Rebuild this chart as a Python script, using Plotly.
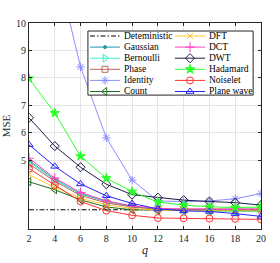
import plotly.graph_objects as go

q = [2, 4, 6, 8, 10, 12, 14, 16, 18, 20]

names = ["Deteministic", "Gaussian", "Bernoulli", "Phase", "Identity", "Count",
         "DFT", "DCT", "DWT", "Hadamard", "Noiselet", "Plane wave"]

deterministic = [3.2] * 10
gaussian = [5.0, 4.3, 3.78, 3.5, 3.32, 3.22, 3.2, 3.19, 3.18, 3.18]
bernoulli = [4.95, 4.28, 3.8, 3.52, 3.32, 3.2, 3.17, 3.15, 3.14, 3.13]
phase = [4.87, 4.24, 3.72, 3.45, 3.3, 3.22, 3.22, 3.22, 3.22, 3.23]
identity = [16.5, 12.3, 8.4, 5.82, 4.28, 3.52, 3.5, 3.52, 3.6, 3.79]
count = [4.22, 3.93, 3.56, 3.3, 3.2, 3.18, 3.18, 3.17, 3.17, 3.17]
dft = [4.48, 4.02, 3.62, 3.38, 3.25, 3.18, 3.17, 3.16, 3.16, 3.16]
dct = [5.08, 4.35, 3.83, 3.52, 3.34, 3.25, 3.23, 3.23, 3.22, 3.22]
dwt = [6.55, 5.52, 4.75, 4.13, 3.75, 3.64, 3.55, 3.5, 3.46, 3.37]
hadamard = [7.98, 6.72, 5.15, 4.35, 3.86, 3.48, 3.37, 3.31, 3.28, 3.3]
noiselet = [4.7, 4.1, 3.5, 3.17, 3.0, 2.9, 2.89, 2.88, 2.87, 2.85]
plane_wave = [5.57, 4.78, 4.14, 3.71, 3.43, 3.23, 3.16, 3.14, 3.06, 2.96]

series = [deterministic, gaussian, bernoulli, phase, identity, count,
          dft, dct, dwt, hadamard, noiselet, plane_wave]

colors = ["#000000", "#1f97ab", "#3cf2c6", "#b8665c", "#8c8cff", "#1f6e1f",
          "#ffc830", "#ff3fc4", "#1c1c44", "#2cff2c", "#ff3434", "#2424ff"]
symbols = [None, "circle", "triangle-right-open", "square-open", "asterisk-open",
           "triangle-left-open", "x-thin-open", "cross-thin-open", "diamond-open",
           "star", "circle-open", "triangle-up-open"]
msizes = [0, 3, 7, 6, 7, 7, 6, 7, 7, 7, 7, 7]

FONT = "Liberation Serif"

fig = go.Figure()

for name, ys, c, s, ms in zip(names, series, colors, symbols, msizes):
    if s is None:
        fig.add_trace(go.Scatter(x=q, y=ys, mode="lines", name=name,
                                 line=dict(color=c, width=1, dash="5px,2px,1.5px,2px"),
                                 showlegend=False))
    else:
        fig.add_trace(go.Scatter(x=q, y=ys, mode="lines+markers", name=name,
                                 line=dict(color=c, width=1),
                                 marker=dict(symbol=s, size=ms, color=c,
                                             line=dict(color=c, width=1)),
                                 showlegend=False))

# custom two-column legend drawn on a hidden overlay axis (0..1 of plot area)
LEG_BOX = (0.254, 0.966, 0.650, 0.961)
COL_LINE_X = [(0.263, 0.392), (0.629, 0.759)]
COL_TEXT_X = [0.401, 0.767]
ROW_TOP_PX = 36.0
ROW_STEP_PX = 11.1
PLOT_TOP_PX, PLOT_BOT_PX = 23.0, 229.0
PLOT_H = PLOT_BOT_PX - PLOT_TOP_PX

bx0, bx1, by0, by1 = LEG_BOX
fig.add_trace(go.Scatter(x=[bx0, bx1, bx1, bx0, bx0], y=[by0, by0, by1, by1, by0],
                         mode="lines", fill="toself", fillcolor="white",
                         line=dict(color="#262626", width=1),
                         xaxis="x2", yaxis="y2", showlegend=False, hoverinfo="skip"))

annotations = []
for i, (name, c, s, ms) in enumerate(zip(names, colors, symbols, msizes)):
    col, row = divmod(i, 6)
    yy = (PLOT_BOT_PX - (ROW_TOP_PX + ROW_STEP_PX * row)) / PLOT_H
    xa, xb = COL_LINE_X[col]
    xm = (xa + xb) / 2
    if s is None:
        fig.add_trace(go.Scatter(x=[xa, xb], y=[yy, yy], mode="lines",
                                 line=dict(color=c, width=1, dash="5px,2px,1.5px,2px"),
                                 xaxis="x2", yaxis="y2", showlegend=False, hoverinfo="skip"))
    else:
        fig.add_trace(go.Scatter(x=[xa, xm, xb], y=[yy, yy, yy], mode="lines+markers",
                                 line=dict(color=c, width=1),
                                 marker=dict(symbol=s, size=ms, color=c, opacity=[0, 1, 0],
                                             line=dict(color=c, width=1)),
                                 xaxis="x2", yaxis="y2", showlegend=False, hoverinfo="skip"))
    annotations.append(dict(x=COL_TEXT_X[col], y=yy, xref="paper", yref="paper",
                            text=name, showarrow=False, xanchor="left", yanchor="middle",
                            font=dict(family=FONT, size=9.5, color="black")))

axis_common = dict(showline=True, linecolor="#262626", linewidth=1, mirror="allticks",
                   ticks="inside", ticklen=3, tickcolor="#262626",
                   showgrid=True, gridcolor="#e5e5e5", gridwidth=1, zeroline=False,
                   automargin=False,
                   tickfont=dict(family=FONT, size=10, color="#262626"))

fig.update_layout(
    width=280, height=263,
    margin=dict(l=29, r=19, t=23, b=34),
    paper_bgcolor="white", plot_bgcolor="white",
    showlegend=False,
    xaxis=dict(range=[2, 20], tickvals=q,
               title=dict(text="<i>q</i>", font=dict(family=FONT, size=12, color="#262626"),
                          standoff=2),
               **axis_common),
    yaxis=dict(range=[2.5, 10], tickvals=[5, 6, 7, 8, 9, 10],
               title=dict(text="MSE", font=dict(family=FONT, size=11, color="#262626"),
                          standoff=4),
               **axis_common),
    xaxis2=dict(overlaying="x", range=[0, 1], visible=False, fixedrange=True),
    yaxis2=dict(overlaying="y", range=[0, 1], visible=False, fixedrange=True),
    annotations=annotations,
)

fig.write_html("out.html", config={"displayModeBar": False},
               post_script="document.body.style.margin='0';")
